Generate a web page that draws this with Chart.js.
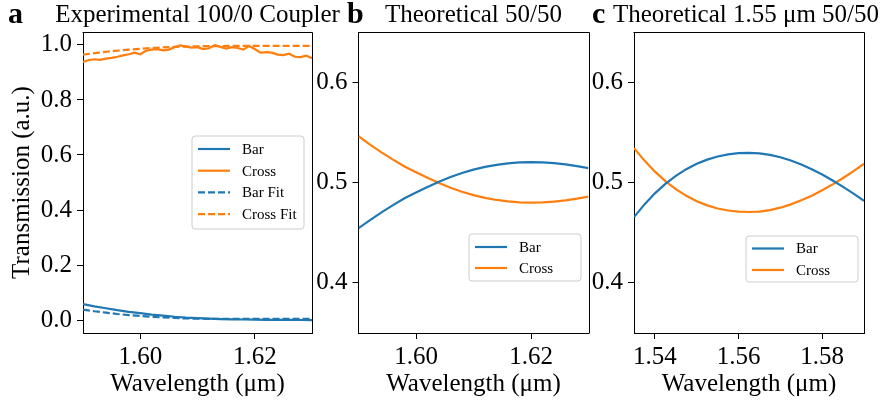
<!DOCTYPE html>
<html><head><meta charset="utf-8">
<script src="https://cdn.jsdelivr.net/npm/chart.js@4"></script>
<style>
html,body{margin:0;padding:0;background:#fff;}
#wrap{position:relative;width:884px;height:400px;background:#fff;}
canvas{position:absolute;left:0;top:0;}
</style>
</head><body>
<div id="wrap">
<canvas id="ca" width="884" height="400"></canvas>
<canvas id="cb" width="884" height="400"></canvas>
<canvas id="cc" width="884" height="400"></canvas>
</div>
<script>
// ---------- Panel a: Experimental 100/0 Coupler ----------
const aExpWavelength = [1.590,1.591,1.592,1.593,1.594,1.595,1.596,1.597,1.598,1.599,1.600,1.601,1.602,1.603,1.604,1.605,1.606,1.607,1.608,1.609,1.610,1.611,1.612,1.613,1.614,1.615,1.616,1.617,1.618,1.619,1.620,1.621,1.622,1.623,1.624,1.625,1.626,1.627,1.628,1.629,1.630];
const aCrossMeasured = [0.938,0.945,0.948,0.946,0.950,0.953,0.957,0.962,0.966,0.972,0.966,0.979,0.983,0.985,0.980,0.983,0.992,0.998,0.994,0.990,0.992,0.985,0.988,0.999,0.993,0.987,0.992,0.989,0.983,0.996,0.985,0.972,0.974,0.972,0.965,0.963,0.968,0.957,0.956,0.961,0.952];
const aWavelength = [1.590,1.592,1.594,1.596,1.598,1.600,1.602,1.604,1.606,1.608,1.610,1.612,1.614,1.616,1.618,1.620,1.622,1.624,1.626,1.628,1.630];
const aBarMeasured = [0.058,0.050,0.043,0.036,0.030,0.025,0.020,0.016,0.012,0.009,0.007,0.005,0.0035,0.0025,0.002,0.0015,0.001,0.0008,0.0005,0.0003,0.0];
const aBarFit = [0.038,0.032,0.027,0.022,0.018,0.015,0.012,0.0095,0.0075,0.006,0.005,0.0045,0.004,0.004,0.004,0.004,0.004,0.004,0.004,0.004,0.004];
const aCrossFit = [0.965,0.970,0.975,0.979,0.983,0.986,0.989,0.991,0.993,0.994,0.995,0.996,0.996,0.9965,0.9965,0.9965,0.9965,0.9965,0.9965,0.9965,0.9965];
const aXTicks = [1.60,1.62];
const aYTicks = [0.0,0.2,0.4,0.6,0.8,1.0];

// ---------- Panel b: Theoretical 50/50 ----------
const bWavelength = [1.590,1.592,1.594,1.596,1.598,1.600,1.602,1.604,1.606,1.608,1.610,1.612,1.614,1.616,1.618,1.620,1.622,1.624,1.626,1.628,1.630];
const bBar = [0.4545,0.4625,0.4703,0.4775,0.4843,0.4900,0.4955,0.5008,0.5054,0.5094,0.5128,0.5155,0.5176,0.5191,0.5200,0.5203,0.5201,0.5193,0.5180,0.5163,0.5143];
const bCross = [0.5462,0.5378,0.5300,0.5228,0.5160,0.5102,0.5047,0.4994,0.4948,0.4908,0.4874,0.4847,0.4826,0.4811,0.4802,0.4799,0.4801,0.4809,0.4822,0.4839,0.4859];
const bXTicks = [1.60,1.62];
const bYTicks = [0.4,0.5,0.6];

// ---------- Panel c: Theoretical 1.55 um 50/50 ----------
const cWavelength = [1.535,1.5375,1.540,1.5425,1.545,1.5475,1.550,1.5525,1.555,1.5575,1.560,1.5625,1.565,1.5675,1.570,1.5725,1.575,1.5775,1.580,1.5825,1.585,1.5875,1.590];
const cBar = [0.4655,0.4782,0.4892,0.4986,0.5066,0.5133,0.5186,0.5228,0.5259,0.5280,0.5292,0.5296,0.5291,0.5276,0.5252,0.5219,0.5179,0.5132,0.5079,0.5020,0.4956,0.4889,0.4818];
const cCross = [0.5343,0.5218,0.5108,0.5014,0.4934,0.4867,0.4814,0.4772,0.4741,0.4721,0.4710,0.4706,0.4710,0.4725,0.4749,0.4782,0.4822,0.4869,0.4922,0.4981,0.5045,0.5113,0.5188];
const cXTicks = [1.54,1.56,1.58];
const cYTicks = [0.4,0.5,0.6];

const BLUE = '#1f77b4', ORANGE = '#ff7f0e';
const SERIF = '"Liberation Serif","DejaVu Serif",serif';
const pts = (xs, ys) => xs.map((x, i) => ({x: x, y: ys[i]}));

const deco = {
  id: 'deco',
  afterDraw(chart, args, o) {
    const ctx = chart.ctx, ca = chart.chartArea;
    ctx.save();
    // spines top/right
    ctx.strokeStyle = '#000'; ctx.lineWidth = 1;
    ctx.beginPath();
    ctx.moveTo(Math.round(ca.left) - 0.5, Math.round(ca.top) + 0.5);
    ctx.lineTo(Math.round(ca.right) + 0.5, Math.round(ca.top) + 0.5);
    ctx.lineTo(Math.round(ca.right) + 0.5, Math.round(ca.bottom) + 0.5);
    ctx.stroke();
    // title
    ctx.fillStyle = '#000';
    ctx.textBaseline = 'alphabetic';
    ctx.textAlign = 'center';
    ctx.font = '25px ' + SERIF;
    ctx.fillText(o.title, (ca.left + ca.right) / 2 + (o.titleShift || 0), 22);
    ctx.textAlign = 'left';
    ctx.font = 'bold 30px ' + SERIF;
    ctx.fillText(o.letter, o.letterX, 23);
    // legend
    const L = o.legend;
    ctx.beginPath();
    const r = 3;
    ctx.moveTo(L.x + r, L.y);
    ctx.arcTo(L.x + L.w, L.y, L.x + L.w, L.y + L.h, r);
    ctx.arcTo(L.x + L.w, L.y + L.h, L.x, L.y + L.h, r);
    ctx.arcTo(L.x, L.y + L.h, L.x, L.y, r);
    ctx.arcTo(L.x, L.y, L.x + L.w, L.y, r);
    ctx.closePath();
    ctx.fillStyle = 'rgba(255,255,255,0.8)';
    ctx.fill();
    ctx.strokeStyle = '#cccccc'; ctx.lineWidth = 1;
    ctx.stroke();
    ctx.font = '15px ' + SERIF;
    ctx.textBaseline = 'middle';
    chart.data.datasets.forEach((ds, i) => {
      const yy = L.y + L.first + i * L.row;
      ctx.strokeStyle = ds.borderColor;
      ctx.lineWidth = 2.2;
      ctx.setLineDash(ds.borderDash || []);
      ctx.beginPath();
      ctx.moveTo(L.x + 6, yy); ctx.lineTo(L.x + 38, yy);
      ctx.stroke();
      ctx.setLineDash([]);
      ctx.fillStyle = '#000';
      ctx.fillText(ds.label, L.x + 50, yy + 1);
    });
    ctx.restore();
  }
};

function makeChart(id, c) {
  const tickFont = {family: SERIF, size: 25};
  return new Chart(document.getElementById(id), {
    type: 'line',
    data: {datasets: c.datasets},
    options: {
      responsive: false, animation: false, devicePixelRatio: 1,
      layout: {padding: c.padding},
      elements: {point: {radius: 0}, line: {tension: 0, borderWidth: 2.2}},
      plugins: {
        legend: {display: false}, tooltip: {enabled: false},
        deco: {title: c.title, letter: c.letter, letterX: c.letterX, legend: c.legend, titleShift: c.titleShift}
      },
      scales: {
        x: {
          type: 'linear', min: c.xMin, max: c.xMax,
          afterBuildTicks: s => { s.ticks = c.xTicks.map(v => ({value: v})); },
          afterFit: s => { s.height = 67; },
          ticks: {font: tickFont, color: '#000', padding: 3, maxRotation: 0, autoSkip: false,
                  callback: v => Number(v).toFixed(2)},
          grid: {drawOnChartArea: false, tickLength: 6, tickColor: '#000', tickWidth: 1},
          border: {color: '#000', width: 1},
          title: {display: true, text: 'Wavelength (μm)', font: tickFont, color: '#000', padding: {top: 0, bottom: 1}}
        },
        y: {
          type: 'linear', min: c.yMin, max: c.yMax,
          afterBuildTicks: s => { s.ticks = c.yTicks.map(v => ({value: v})); },
          afterFit: s => { s.width = c.yWidth; },
          ticks: {font: tickFont, color: '#000', padding: 5, autoSkip: false,
                  callback: v => Number(v).toFixed(1)},
          grid: {drawOnChartArea: false, tickLength: 6, tickColor: '#000', tickWidth: 1},
          border: {color: '#000', width: 1},
          title: {display: !!c.yTitle, text: c.yTitle || '', font: tickFont, color: '#000', padding: {top: 7, bottom: 0}}
        }
      }
    },
    plugins: [deco]
  });
}

makeChart('ca', {
  datasets: [
    {label: 'Bar', data: pts(aWavelength, aBarMeasured), borderColor: BLUE},
    {label: 'Cross', data: pts(aExpWavelength, aCrossMeasured), borderColor: ORANGE},
    {label: 'Bar Fit', data: pts(aWavelength, aBarFit), borderColor: BLUE, borderDash: [7, 3]},
    {label: 'Cross Fit', data: pts(aWavelength, aCrossFit), borderColor: ORANGE, borderDash: [7, 3]}
  ],
  xMin: 1.59, xMax: 1.63, yMin: -0.047, yMax: 1.047,
  xTicks: aXTicks, yTicks: aYTicks, yTitle: 'Transmission (a.u.)',
  yWidth: 83, padding: {left: 0, right: 572, top: 32, bottom: 0},
  title: 'Experimental 100/0 Coupler', letter: 'a', letterX: 8,
  legend: {x: 192, y: 136, w: 112, h: 93, first: 13, row: 21.7}
});

makeChart('cb', {
  datasets: [
    {label: 'Bar', data: pts(bWavelength, bBar), borderColor: BLUE},
    {label: 'Cross', data: pts(bWavelength, bCross), borderColor: ORANGE}
  ],
  xMin: 1.59, xMax: 1.63, yMin: 0.35, yMax: 0.65,
  xTicks: bXTicks, yTicks: bYTicks,
  yWidth: 60, padding: {left: 298.5, right: 295.5, top: 32, bottom: 0},
  title: 'Theoretical 50/50', letter: 'b', letterX: 347,
  legend: {x: 469, y: 234, w: 112, h: 47, first: 13, row: 21}
});

makeChart('cc', {
  datasets: [
    {label: 'Bar', data: pts(cWavelength, cBar), borderColor: BLUE},
    {label: 'Cross', data: pts(cWavelength, cCross), borderColor: ORANGE}
  ],
  xMin: 1.535, xMax: 1.590, yMin: 0.35, yMax: 0.65,
  xTicks: cXTicks, yTicks: cYTicks,
  yWidth: 60, padding: {left: 574, right: 20, top: 32, bottom: 0},
  title: 'Theoretical 1.55 μm 50/50', letter: 'c', letterX: 592, titleShift: -3,
  legend: {x: 746, y: 236, w: 112, h: 46, first: 12.5, row: 21.5}
});
</script>
</body></html>
